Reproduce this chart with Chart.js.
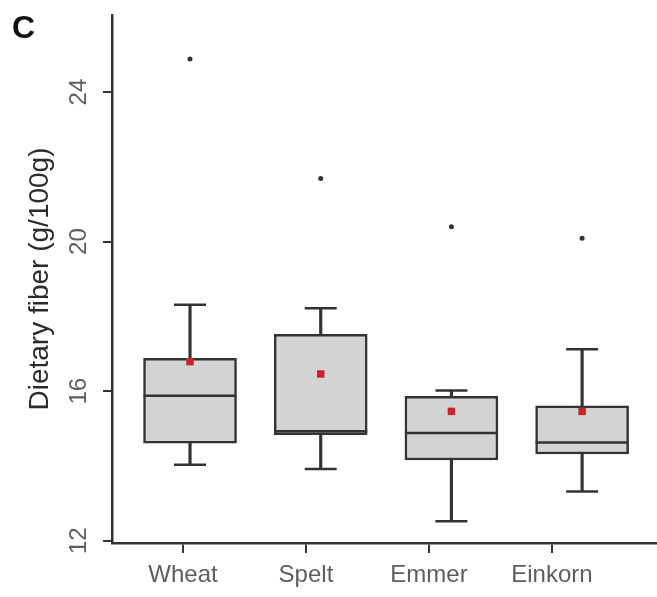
<!DOCTYPE html>
<html><head><meta charset="utf-8">
<script src="https://cdn.jsdelivr.net/npm/chart.js@4.4.1/dist/chart.umd.min.js"></script>
<style>html,body{margin:0;padding:0;background:#fff;}canvas{display:block;}</style>
</head><body>
<canvas id="c" width="657" height="597"></canvas>
<script>
const categories = ['Wheat', 'Spelt', 'Emmer', 'Einkorn'];
const whiskerLow = [14.03, 13.92, 12.52, 13.32];
const q1 = [14.61, 14.84, 14.16, 14.32];
const median = [15.88, 14.93, 14.88, 14.63];
const q3 = [16.88, 17.52, 15.86, 15.61];
const whiskerHigh = [18.31, 18.22, 16.02, 17.12];
const means = [16.79, 16.46, 15.46, 15.46];
const outliers = [24.88, 21.69, 20.40, 20.09];
const yTicks = [12, 16, 20, 24];
const yTitle = 'Dietary fiber (g/100g)';
const panel = 'C';

const FONT = "'Liberation Sans', Arial, Helvetica, sans-serif";
Chart.defaults.font.family = FONT;
const DARK = '#333333';

const noPad = () => ({left: 0, top: 0, right: 0, bottom: 0});

const panelLabel = {
  id: 'panelLabel',
  afterDraw(chart) {
    const ctx = chart.ctx;
    ctx.save();
    ctx.font = 'bold 32px ' + FONT;
    ctx.fillStyle = '#111';
    ctx.textBaseline = 'alphabetic';
    ctx.textAlign = 'left';
    ctx.fillText(panel, 12, 38);
    ctx.restore();
  }
};

const pts = arr => categories.map((c, i) => ({x: i, y: arr[i]}));
const ranges = (a, b) => categories.map((c, i) => ({x: i, y: [a[i], b[i]]}));

new Chart(document.getElementById('c'), {
  type: 'bar',
  data: {
    datasets: [
      {type: 'bar', label: 'whisker', data: ranges(whiskerLow, whiskerHigh),
       backgroundColor: DARK, borderWidth: 0, barThickness: 2.5, grouped: false, order: 5},
      {type: 'bar', label: 'box', data: ranges(q1, q3),
       backgroundColor: '#d4d4d4', borderColor: DARK, borderWidth: 2.5, borderSkipped: false,
       barThickness: 93, grouped: false, order: 4},
      {type: 'scatter', label: 'median', data: pts(median), pointStyle: 'line', pointRadius: 46.5,
       pointBorderColor: DARK, borderColor: DARK, pointBorderWidth: 2.5, borderWidth: 2.5, order: 3},
      {type: 'scatter', label: 'caps', data: pts(whiskerLow).concat(pts(whiskerHigh)), pointStyle: 'line', pointRadius: 16,
       pointBorderColor: DARK, borderColor: DARK, pointBorderWidth: 2.5, borderWidth: 2.5, order: 3},
      {type: 'scatter', label: 'mean', data: pts(means), pointStyle: 'rect', pointRadius: 5.3,
       pointBackgroundColor: '#c8262c', backgroundColor: '#c8262c', pointBorderWidth: 0, borderWidth: 0, order: 1},
      {type: 'scatter', label: 'outliers', data: pts(outliers), pointStyle: 'circle', pointRadius: 2.5,
       pointBackgroundColor: DARK, backgroundColor: DARK, pointBorderWidth: 0, borderWidth: 0, order: 1}
    ]
  },
  options: {
    responsive: false,
    animation: false,
    devicePixelRatio: 1,
    layout: {autoPadding: false, padding: {top: 15, left: 0, right: 0, bottom: 0}},
    plugins: {legend: {display: false}, tooltip: {enabled: false}},
    scales: {
      x: {type: 'linear', display: false, offset: false, grid: {offset: false},
          min: -0.597, max: 3.573, bounds: 'data',
          afterFit: s => { s.paddingLeft = s.paddingRight = s.paddingTop = s.paddingBottom = 0; s.getPadding = noPad; }},
      xl: {
        type: 'linear', position: 'bottom', offset: false, min: -0.577, max: 3.854, bounds: 'data',
        afterBuildTicks: s => { s.ticks = categories.map((c, i) => ({value: i})); },
        afterFit: s => { s.height = 54; s.paddingLeft = s.paddingRight = s.paddingTop = s.paddingBottom = 0; s.getPadding = noPad; },
        border: {display: true, color: DARK, width: 2.5},
        grid: {offset: false, drawOnChartArea: false, drawTicks: true, tickLength: 10, color: DARK, lineWidth: 2},
        ticks: {callback: (v, i) => categories[i], autoSkip: false, minRotation: 0, maxRotation: 0,
                padding: 8, color: '#5e5e5e', font: {size: 24}}
      },
      y: {
        type: 'linear', position: 'left', min: 11.94, max: 26.06, bounds: 'data',
        afterBuildTicks: s => { s.ticks = yTicks.map(v => ({value: v})); },
        afterFit: s => { s.width = 112; s.paddingLeft = s.paddingRight = s.paddingTop = s.paddingBottom = 0; s.getPadding = noPad; },
        border: {display: true, color: DARK, width: 2.5},
        grid: {drawOnChartArea: false, drawTicks: true, tickLength: 9, color: DARK, lineWidth: 2},
        ticks: {minRotation: 90, maxRotation: 90, crossAlign: 'center', padding: 10,
                color: '#5e5e5e', font: {size: 24}},
        title: {display: true, text: yTitle, color: '#2b2b2b', font: {size: 28}, padding: {top: 23, bottom: 0}}
      }
    }
  },
  plugins: [panelLabel]
});
</script>
</body></html>
